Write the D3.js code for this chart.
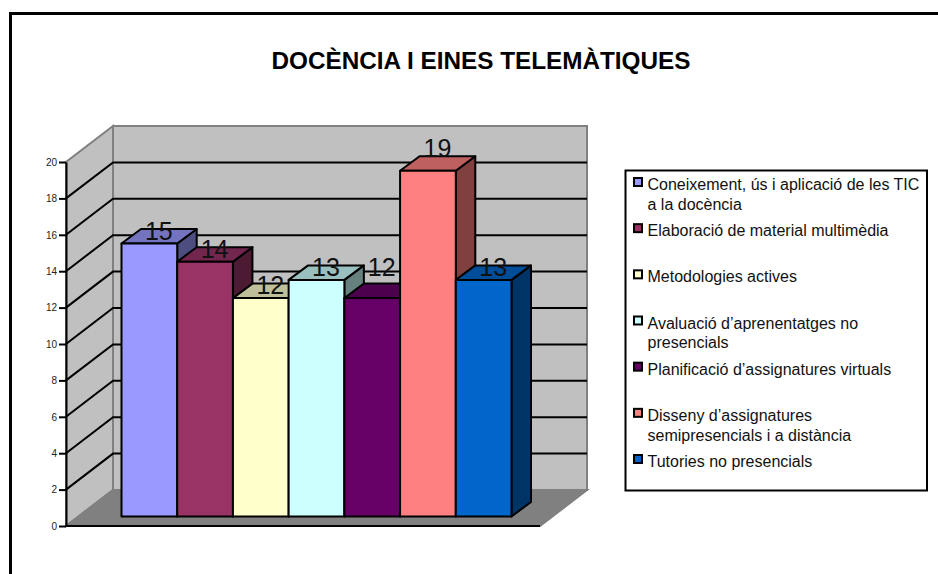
<!DOCTYPE html>
<html>
<head>
<meta charset="utf-8">
<script src="https://cdn.jsdelivr.net/npm/d3@7"></script>
<style>
  html, body { margin: 0; padding: 0; background: #fff; }
  svg { display: block; }
  text { font-family: "Liberation Sans", Arial, sans-serif; }
</style>
</head>
<body>
<div id="chart"></div>
<script>
const categories = [
  "Coneixement, ús i aplicació de les TIC a la docència",
  "Elaboració de material multimèdia",
  "Metodologies actives",
  "Avaluació d’aprenentatges no presencials",
  "Planificació d’assignatures virtuals",
  "Disseny d’assignatures semipresencials i a distància",
  "Tutories no presencials"
];
const values = [15, 14, 12, 13, 12, 19, 13];
const colors = ["#9999ff", "#993366", "#ffffcc", "#ccffff", "#660066", "#ff8080", "#0066cc"];
const yTicks = [0, 2, 4, 6, 8, 10, 12, 14, 16, 18, 20];
const legendLines = [
  ["Coneixement, ús i aplicació de les TIC", "a la docència"],
  ["Elaboració de material multimèdia"],
  ["Metodologies actives"],
  ["Avaluació d’aprenentatges no", "presencials"],
  ["Planificació d’assignatures virtuals"],
  ["Disseny d’assignatures", "semipresencials i a distància"],
  ["Tutories no presencials"]
];

const width = 938;
const height = 574;

// oblique projection of the 3D box
const depth = { dx: 47, dy: -36 };
const barOffset = { dy: -9.5 };
const barDepth = { dx: 19.5, dy: -14.5 };
// the original labels were hand placed, so they do not all sit at the same height
const labelLift = [3.7, 4, 4, 4, 21.7, 14, 4];

const svg = d3.select("#chart")
  .append("svg")
  .attr("width", width)
  .attr("height", height);

// outer frame, only the top and left edges are inside the crop
svg.append("path")
  .attr("d", `M10.5,${height}V13.5H${width}`)
  .attr("fill", "none")
  .attr("stroke", "#000")
  .attr("stroke-width", 3);

svg.append("text")
  .attr("x", 481)
  .attr("y", 69)
  .attr("text-anchor", "middle")
  .attr("font-size", 24.3)
  .attr("font-weight", "bold")
  .text("DOCÈNCIA I EINES TELEMÀTIQUES");

const y = d3.scaleLinear().domain([0, 20]).range([526, 162]);
const x = d3.scaleBand().domain(categories).range([121.5, 511.5]).paddingInner(0);
const floorX = { left: 66, right: 540 };

const pts = a => a.map(p => p.join(",")).join(" ");

// walls and floor
const walls = svg.append("g").attr("stroke", "#808080").attr("stroke-width", 2);
walls.append("polygon")
  .attr("fill", "#c0c0c0")
  .attr("points", pts([
    [floorX.left, y(0)], [floorX.left + depth.dx, y(0) + depth.dy],
    [floorX.left + depth.dx, y(20) + depth.dy], [floorX.left, y(20)]
  ]));
walls.append("polygon")
  .attr("fill", "#c0c0c0")
  .attr("points", pts([
    [floorX.left + depth.dx, y(0) + depth.dy], [floorX.right + depth.dx, y(0) + depth.dy],
    [floorX.right + depth.dx, y(20) + depth.dy], [floorX.left + depth.dx, y(20) + depth.dy]
  ]));
walls.append("polygon")
  .attr("fill", "#808080")
  .attr("points", pts([
    [floorX.left, y(0)], [floorX.right, y(0)],
    [floorX.right + depth.dx, y(0) + depth.dy], [floorX.left + depth.dx, y(0) + depth.dy]
  ]));

// gridlines, running along the side wall then the back wall
svg.append("g")
  .selectAll("path")
  .data(yTicks.filter(d => d > 0 && d < 20))
  .join("path")
  .attr("d", d => `M${floorX.left},${y(d)}L${floorX.left + depth.dx},${y(d) + depth.dy}H${floorX.right + depth.dx}`)
  .attr("fill", "none")
  .attr("stroke", "#000")
  .attr("stroke-width", 2);

// front edge of the floor
svg.append("path")
  .attr("d", `M${floorX.left},${y(0)}H${floorX.right}`)
  .attr("stroke", "#000")
  .attr("stroke-width", 2);

const axis = svg.append("g")
  .attr("transform", `translate(${floorX.left},0)`)
  .call(d3.axisLeft(y).tickValues(yTicks).tickSize(7).tickSizeOuter(0).tickPadding(2));
axis.selectAll("path, line").attr("stroke", "#000").attr("stroke-width", 2);
axis.selectAll("text")
  .attr("font-size", 10)
  .attr("font-family", "Liberation Sans, Arial, sans-serif")
  .attr("fill", "#222");

const shade = (c, k) => {
  const r = d3.rgb(c);
  return d3.rgb(r.r * k, r.g * k, r.b * k).formatHex();
};

const base = y(0) + barOffset.dy;
const barTop = d => y(d.value) + barOffset.dy;

const bars = svg.append("g")
  .attr("stroke", "#000")
  .attr("stroke-width", 2)
  .attr("stroke-linejoin", "round")
  .selectAll("g")
  .data(categories.map((c, i) => ({ c, value: values[i], color: colors[i] })))
  .join("g");

bars.append("polygon")
  .attr("fill", d => shade(d.color, 0.5))
  .attr("points", d => {
    const r = x(d.c) + x.bandwidth();
    return pts([[r, base], [r + barDepth.dx, base + barDepth.dy],
      [r + barDepth.dx, barTop(d) + barDepth.dy], [r, barTop(d)]]);
  });
bars.append("polygon")
  .attr("fill", d => shade(d.color, 0.75))
  .attr("points", d => {
    const l = x(d.c);
    const r = l + x.bandwidth();
    return pts([[l, barTop(d)], [r, barTop(d)],
      [r + barDepth.dx, barTop(d) + barDepth.dy], [l + barDepth.dx, barTop(d) + barDepth.dy]]);
  });
bars.append("rect")
  .attr("x", d => x(d.c))
  .attr("y", d => barTop(d))
  .attr("width", x.bandwidth())
  .attr("height", d => base - barTop(d))
  .attr("fill", d => d.color);

svg.append("g")
  .selectAll("text")
  .data(values)
  .join("text")
  .attr("x", (d, i) => x(categories[i]) + x.bandwidth() / 2 + 9.5)
  .attr("y", (d, i) => y(d) + barOffset.dy - labelLift[i])
  .attr("text-anchor", "middle")
  .attr("font-size", 25)
  .attr("fill", "#111")
  .text(d => d);

// legend
svg.append("rect")
  .attr("x", 625.5)
  .attr("y", 170.5)
  .attr("width", 301.5)
  .attr("height", 320)
  .attr("fill", "#fff")
  .attr("stroke", "#000")
  .attr("stroke-width", 2);

const legendY = d3.scalePoint().domain(categories).range([190, 467]);
const legend = svg.append("g")
  .selectAll("g")
  .data(categories.map((c, i) => ({ c, color: colors[i], lines: legendLines[i] })))
  .join("g")
  .attr("transform", d => `translate(0,${legendY(d.c)})`);

legend.append("rect")
  .attr("x", 634)
  .attr("y", -12)
  .attr("width", 8)
  .attr("height", 8)
  .attr("fill", d => d.color)
  .attr("stroke", "#000")
  .attr("stroke-width", 2);

legend.selectAll("text")
  .data(d => d.lines)
  .join("text")
  .attr("x", 647.5)
  .attr("y", (d, i) => i * 19.7)
  .attr("font-size", 16)
  .attr("fill", "#111")
  .text(d => d);
</script>
</body>
</html>
